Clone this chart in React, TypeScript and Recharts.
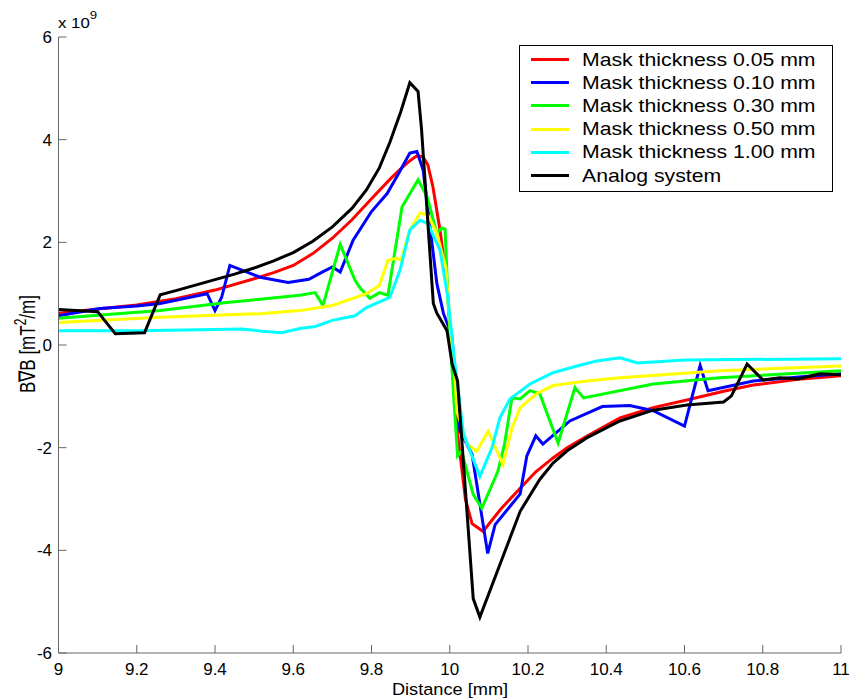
import { LineChart, Line, XAxis, YAxis, Legend } from 'recharts';

// values are in units of 1e9 mT^2/m, x in mm
const mask005: [number, number][] = [
  [9.0, 0.62], [9.1, 0.7], [9.2, 0.78], [9.3, 0.9], [9.4, 1.07], [9.5, 1.29], [9.55, 1.41], [9.6, 1.55],
  [9.65, 1.78], [9.7, 2.08], [9.75, 2.44], [9.8, 2.85], [9.85, 3.25], [9.88, 3.47], [9.9, 3.6], [9.917, 3.69],
  [9.932, 3.66], [9.944, 3.51], [9.957, 3.08], [9.975, 2.24], [9.993, 1.2], [10.008, -0.4], [10.02, -1.73],
  [10.04, -3.0], [10.057, -3.48], [10.085, -3.63], [10.13, -3.2], [10.18, -2.79], [10.22, -2.47],
  [10.264, -2.2], [10.3, -2.0], [10.35, -1.78], [10.435, -1.42], [10.52, -1.22], [10.606, -1.07],
  [10.7, -0.9], [10.776, -0.78], [10.9, -0.66], [11.0, -0.6],
];

const mask010: [number, number][] = [
  [9.0, 0.57], [9.106, 0.71], [9.2, 0.76], [9.26, 0.81], [9.38, 1.0], [9.4, 0.67], [9.417, 0.93],
  [9.438, 1.55], [9.515, 1.32], [9.587, 1.22], [9.64, 1.28], [9.674, 1.42], [9.7, 1.52], [9.72, 1.42],
  [9.753, 2.04], [9.8, 2.6], [9.84, 2.95], [9.87, 3.35], [9.898, 3.74], [9.916, 3.77], [9.932, 3.41],
  [9.967, 1.2], [9.984, 0.61], [10.005, 0.2], [10.026, -1.67], [10.057, -2.13], [10.097, -4.06],
  [10.116, -3.5], [10.18, -2.9], [10.197, -2.16], [10.22, -1.77], [10.238, -1.93], [10.307, -1.48],
  [10.39, -1.2], [10.46, -1.18], [10.52, -1.28], [10.6, -1.58], [10.64, -0.4], [10.66, -0.89],
  [10.776, -0.7], [10.9, -0.62], [11.0, -0.56],
];

const mask030: [number, number][] = [
  [9.0, 0.52], [9.1, 0.58], [9.26, 0.67], [9.43, 0.83], [9.515, 0.89], [9.617, 0.97], [9.656, 1.02],
  [9.676, 0.77], [9.72, 1.96], [9.758, 1.26], [9.77, 1.12], [9.796, 0.91], [9.82, 1.02], [9.842, 0.97],
  [9.878, 2.69], [9.919, 3.22], [9.942, 2.89], [9.967, 2.18], [9.98, 2.28], [9.988, 2.26], [9.996, 0.8],
  [10.01, -1.0], [10.02, -2.16], [10.03, -2.07], [10.06, -2.91], [10.082, -3.18], [10.123, -2.46],
  [10.14, -1.93], [10.159, -1.03], [10.18, -1.05], [10.205, -0.89], [10.23, -0.95], [10.277, -1.91],
  [10.32, -0.83], [10.342, -1.03], [10.52, -0.76], [10.69, -0.64], [11.0, -0.5],
];

const mask050: [number, number][] = [
  [9.0, 0.44], [9.26, 0.54], [9.515, 0.61], [9.617, 0.67], [9.7, 0.77], [9.787, 1.0], [9.82, 1.16],
  [9.842, 1.65], [9.865, 1.69], [9.875, 1.65], [9.898, 2.24], [9.924, 2.57], [9.944, 2.53],
  [9.967, 2.18], [9.99, 1.5], [10.005, 0.0], [10.012, -0.44], [10.018, -1.28], [10.044, -1.93],
  [10.069, -2.07], [10.098, -1.68], [10.136, -2.33], [10.159, -1.62], [10.18, -1.22], [10.222, -0.95],
  [10.264, -0.79], [10.35, -0.7], [10.435, -0.64], [10.69, -0.5], [11.0, -0.41],
];

const mask100: [number, number][] = [
  [9.0, 0.28], [9.2, 0.28], [9.4, 0.3], [9.47, 0.31], [9.52, 0.27], [9.57, 0.24], [9.617, 0.32],
  [9.656, 0.36], [9.7, 0.48], [9.758, 0.57], [9.787, 0.73], [9.847, 0.93], [9.873, 1.46], [9.898, 2.24],
  [9.924, 2.43], [9.944, 2.37], [9.975, 1.85], [9.995, 0.93], [10.012, -0.3], [10.035, -1.73],
  [10.077, -2.56], [10.108, -2.0], [10.128, -1.42], [10.154, -1.05], [10.205, -0.76], [10.264, -0.54],
  [10.325, -0.41], [10.376, -0.31], [10.435, -0.25], [10.48, -0.35], [10.6, -0.29], [11.0, -0.27],
];

const analog: [number, number][] = [
  [9.0, 0.69], [9.1, 0.65], [9.145, 0.22], [9.22, 0.24], [9.26, 0.98], [9.3, 1.06], [9.375, 1.22],
  [9.45, 1.38], [9.5, 1.5], [9.55, 1.64], [9.6, 1.8], [9.65, 2.02], [9.7, 2.3], [9.75, 2.66],
  [9.787, 3.02], [9.82, 3.45], [9.847, 3.95], [9.875, 4.55], [9.898, 5.11], [9.919, 4.94],
  [9.928, 4.19], [9.958, 0.81], [9.967, 0.62], [9.993, 0.28], [10.006, -0.37], [10.02, -0.7],
  [10.06, -4.94], [10.077, -5.3], [10.128, -4.28], [10.18, -3.24], [10.23, -2.62], [10.264, -2.3],
  [10.3, -2.06], [10.35, -1.81], [10.435, -1.48], [10.52, -1.27], [10.606, -1.17], [10.7, -1.11],
  [10.72, -0.99], [10.76, -0.37], [10.8, -0.68], [10.844, -0.64], [10.89, -0.66], [10.946, -0.56],
  [11.0, -0.58],
];

const seriesNames = [
  'Mask thickness 0.05 mm',
  'Mask thickness 0.10 mm',
  'Mask thickness 0.30 mm',
  'Mask thickness 0.50 mm',
  'Mask thickness 1.00 mm',
  'Analog system',
];
const seriesColors = ['#ff0000', '#0000ff', '#00ff00', '#ffff00', '#00ffff', '#000000'];
const seriesData = [mask005, mask010, mask030, mask050, mask100, analog];

const xTicks = [9, 9.2, 9.4, 9.6, 9.8, 10, 10.2, 10.4, 10.6, 10.8, 11];
const yTicks = [-6, -4, -2, 0, 2, 4, 6];

const toRows = (pts: [number, number][]) => pts.map(([x, y]) => ({ x, y }));

const axisColor = '#666';

function YTitle() {
  return (
    <g>
      <text transform="translate(58,28) scale(1.2,1)" fontSize={14} fill="#000">
        x 10<tspan dy={-9} fontSize={11}>9</tspan>
      </text>
      <text
        transform="translate(35,344) scale(1.35,1) rotate(-90)"
        textAnchor="middle"
        fontSize={17}
        fill="#000"
      >
        B∇B [mT<tspan dy={-7} fontSize={12}>2</tspan><tspan dy={7}>/m]</tspan>
      </text>
    </g>
  );
}

function XTitle() {
  return (
    <text transform="translate(450,695) scale(1.07,1)" textAnchor="middle" fontSize={17} fill="#000">
      Distance [mm]
    </text>
  );
}

const renderLegend = (props: any) => {
  const payload = [...(props.payload || [])].sort(
    (a: any, b: any) => seriesNames.indexOf(a.value) - seriesNames.indexOf(b.value),
  );
  return (
    <div
      style={{
        width: 314,
        height: 147,
        boxSizing: 'border-box',
        border: '1px solid #000',
        background: '#fff',
        paddingTop: 2,
      }}
    >
      {payload.map((p: any) => (
        <div key={p.value} style={{ display: 'flex', alignItems: 'center', height: 23.2 }}>
          <span style={{ display: 'inline-block', width: 38, height: 3, background: p.color, marginLeft: 11 }} />
          <span
            style={{
              marginLeft: 13,
              fontSize: 17.7,
              lineHeight: '20px',
              whiteSpace: 'nowrap',
              display: 'inline-block',
              transform: 'scaleX(1.2)',
              transformOrigin: 'left center',
              color: '#000',
            }}
          >
            {p.value}
          </span>
        </div>
      ))}
    </div>
  );
};

export default function App() {
  return (
    <div
      style={{
        position: 'absolute',
        left: 0,
        top: 0,
        width: 851,
        height: 700,
        background: '#fff',
        fontFamily: '"Liberation Sans", Arial, Helvetica, sans-serif',
      }}
    >
      <LineChart width={851} height={700} margin={{ top: 37, right: 10, bottom: 0, left: 0 }}>
        <XAxis
          xAxisId="b"
          type="number"
          dataKey="x"
          domain={[9, 11]}
          ticks={xTicks}
          interval={0}
          allowDataOverflow
          tickSize={-8}
          tickMargin={18}
          height={47}
          stroke={axisColor}
          tick={{ fill: '#000', fontSize: 17 }}
          label={<XTitle />}
        />
        <XAxis
          xAxisId="t"
          orientation="top"
          type="number"
          dataKey="x"
          domain={[9, 11]}
          ticks={xTicks}
          interval={0}
          allowDataOverflow
          tickSize={-8}
          height={0}
          stroke={axisColor}
          tick={false}
        />
        <YAxis
          yAxisId="l"
          type="number"
          domain={[-6, 6]}
          ticks={yTicks}
          interval={0}
          allowDataOverflow
          tickSize={-8}
          tickMargin={14.5}
          width={58.5}
          stroke={axisColor}
          tick={{ fill: '#000', fontSize: 17 }}
          label={<YTitle />}
        />
        <YAxis
          yAxisId="r"
          orientation="right"
          type="number"
          domain={[-6, 6]}
          ticks={yTicks}
          interval={0}
          allowDataOverflow
          tickSize={-8}
          width={0}
          stroke={axisColor}
          tick={false}
        />
        {seriesData.map((pts, i) => (
          <Line
            key={seriesNames[i]}
            xAxisId="b"
            yAxisId="l"
            data={toRows(pts)}
            dataKey="y"
            name={seriesNames[i]}
            stroke={seriesColors[i]}
            strokeWidth={3}
            dot={false}
            type="linear"
            isAnimationActive={false}
          />
        ))}
        <Legend
          layout="vertical"
          align="center"
          verticalAlign="middle"
          wrapperStyle={{ left: 519, top: 45, width: 314, height: 147 }}
          content={renderLegend}
        />
      </LineChart>
    </div>
  );
}
